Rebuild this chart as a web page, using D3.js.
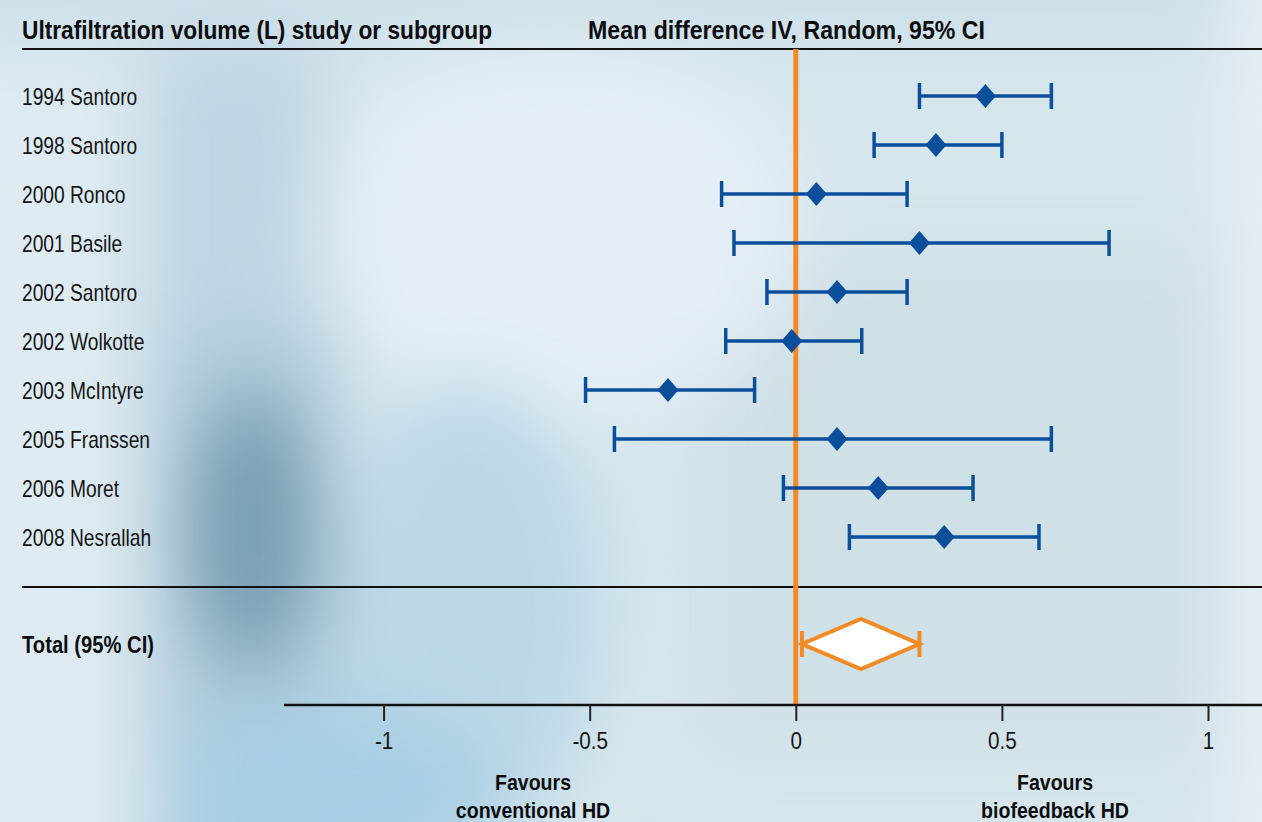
<!DOCTYPE html>
<html>
<head>
<meta charset="utf-8">
<script src="https://cdn.jsdelivr.net/npm/d3@7"></script>
<style>
  html, body { margin: 0; padding: 0; background: #d6e7ef; }
  svg { display: block; }
  .lbl { font-family: "Liberation Sans", Arial, Helvetica, sans-serif; fill: #151515; }
  .bold { font-weight: bold; fill: #0d0d0d; }
</style>
</head>
<body>
<svg id="chart" width="1262" height="822"></svg>
<script>
// Studies (ultrafiltration volume, L) with mean difference and 95% CI
const studies = ["1994 Santoro", "1998 Santoro", "2000 Ronco", "2001 Basile", "2002 Santoro",
                 "2002 Wolkotte", "2003 McIntyre", "2005 Franssen", "2006 Moret", "2008 Nesrallah"];
const meanDiff = [0.46, 0.34, 0.05, 0.30, 0.10, -0.01, -0.31, 0.10, 0.20, 0.36];
const ciLower  = [0.30, 0.19, -0.18, -0.15, -0.07, -0.17, -0.51, -0.44, -0.03, 0.13];
const ciUpper  = [0.62, 0.50, 0.27, 0.76, 0.27, 0.16, -0.10, 0.62, 0.43, 0.59];

// Pooled estimate
const totalLabel = "Total (95% CI)";
const totalMean = 0.158;
const totalLower = 0.015;
const totalUpper = 0.30;

const tickValues = [-1, -0.5, 0, 0.5, 1];
const tickLabels = ["-1", "-0.5", "0", "0.5", "1"];

const headerLeft = "Ultrafiltration volume (L) study or subgroup";
const headerRight = "Mean difference IV, Random, 95% CI";
const favourLeft = ["Favours", "conventional HD"];
const favourRight = ["Favours", "biofeedback HD"];

const W = 1262, H = 822;
const blue = "#0b4f9b", orange = "#f28a26";
const narrow = 0.8;   // condensed look for the regular labels

const svg = d3.select("#chart");

// ---- soft photographic backdrop ----
const defs = svg.append("defs");
const f = defs.append("filter").attr("id", "soft")
  .attr("filterUnits", "userSpaceOnUse")
  .attr("x", -300).attr("y", -300).attr("width", W + 600).attr("height", H + 600);
f.append("feGaussianBlur").attr("stdDeviation", 36);

const bg = svg.append("g");
bg.append("rect").attr("width", W).attr("height", H).attr("fill", "#d6e6ed");
const blur = bg.append("g").attr("filter", "url(#soft)");
blur.append("rect").attr("x", 700).attr("y", 250).attr("width", 520).attr("height", 500).attr("fill", "#d0e0e7");
blur.append("rect").attr("x", -80).attr("y", -80).attr("width", 1400).attr("height", 125).attr("fill", "#cde0ea");
blur.append("ellipse").attr("cx", 560).attr("cy", 230).attr("rx", 240).attr("ry", 190).attr("fill", "#e3eff5");
blur.append("rect").attr("x", -80).attr("y", 60).attr("width", 200).attr("height", 900).attr("fill", "#deebf2");
blur.append("rect").attr("x", 150).attr("y", 50).attr("width", 170).attr("height", 290).attr("fill", "#bfd6e3");
blur.append("ellipse").attr("cx", 470).attr("cy", 610).attr("rx", 130).attr("ry", 230).attr("fill", "#bcd8e7");
blur.append("rect").attr("x", 155).attr("y", 330).attr("width", 180).attr("height", 600).attr("fill", "#aecbdc");
blur.append("ellipse").attr("cx", 330).attr("cy", 800).attr("rx", 170).attr("ry", 100).attr("fill", "#a9cee4");
blur.append("ellipse").attr("cx", 253).attr("cy", 530).attr("rx", 70).attr("ry", 140).attr("fill", "#7a9fb4");
blur.append("rect").attr("x", 1235).attr("y", -50).attr("width", 100).attr("height", 950).attr("fill", "#e8f0f3");

// ---- scales ----
const x = d3.scaleLinear().domain([-1.2416, 1.131]).range([284, W]);
const y = d3.scalePoint().domain(studies).range([96, 537]);
const yTotal = 644;
const yAxis = 705;

// ---- headers ----
svg.append("text").attr("class", "lbl bold").attr("x", 22).attr("y", 39)
  .attr("font-size", 25).attr("textLength", 470).attr("lengthAdjust", "spacingAndGlyphs")
  .text(headerLeft);
svg.append("text").attr("class", "lbl bold").attr("x", 588).attr("y", 39)
  .attr("font-size", 25).attr("textLength", 397).attr("lengthAdjust", "spacingAndGlyphs")
  .text(headerRight);

svg.append("line").attr("x1", 22).attr("x2", W).attr("y1", 49).attr("y2", 49)
  .attr("stroke", "#111").attr("stroke-width", 2);
svg.append("line").attr("x1", 22).attr("x2", W).attr("y1", 587).attr("y2", 587)
  .attr("stroke", "#111").attr("stroke-width", 2);

// ---- study labels ----
svg.append("g").selectAll("text").data(studies).join("text")
  .attr("class", "lbl")
  .attr("transform", d => `translate(22,${y(d)}) scale(${narrow},1)`)
  .attr("dy", "0.36em")
  .attr("font-size", 24).text(d => d);

svg.append("text").attr("class", "lbl bold").attr("x", 22).attr("y", yTotal).attr("dy", "0.36em")
  .attr("font-size", 24).attr("textLength", 132).attr("lengthAdjust", "spacingAndGlyphs")
  .text(totalLabel);

// ---- line of no effect ----
svg.append("line").attr("x1", x(0)).attr("x2", x(0)).attr("y1", 49).attr("y2", yAxis)
  .attr("stroke", orange).attr("stroke-width", 5);

// ---- study CIs ----
const rows = studies.map((s, i) => ({ s, m: meanDiff[i], lo: ciLower[i], hi: ciUpper[i] }));
const cap = 13;
const g = svg.append("g").attr("stroke", blue).attr("stroke-width", 3.5);
g.selectAll("line.ci").data(rows).join("line").attr("class", "ci")
  .attr("x1", d => x(d.lo)).attr("x2", d => x(d.hi))
  .attr("y1", d => y(d.s)).attr("y2", d => y(d.s));
g.selectAll("line.capL").data(rows).join("line").attr("class", "capL")
  .attr("x1", d => x(d.lo)).attr("x2", d => x(d.lo))
  .attr("y1", d => y(d.s) - cap).attr("y2", d => y(d.s) + cap);
g.selectAll("line.capR").data(rows).join("line").attr("class", "capR")
  .attr("x1", d => x(d.hi)).attr("x2", d => x(d.hi))
  .attr("y1", d => y(d.s) - cap).attr("y2", d => y(d.s) + cap);
svg.append("g").selectAll("path").data(rows).join("path")
  .attr("fill", blue)
  .attr("d", d => {
    const cx = x(d.m), cy = y(d.s);
    return `M${cx - 10.5},${cy}L${cx},${cy - 12}L${cx + 10.5},${cy}L${cx},${cy + 12}Z`;
  });

// ---- pooled diamond ----
const tg = svg.append("g").attr("stroke", orange).attr("stroke-width", 4);
tg.append("path").attr("fill", "#fff").attr("stroke-linejoin", "miter")
  .attr("d", `M${x(totalLower)},${yTotal}L${x(totalMean)},${yTotal - 25}L${x(totalUpper)},${yTotal}L${x(totalMean)},${yTotal + 25}Z`);
tg.append("line").attr("x1", x(totalLower)).attr("x2", x(totalLower))
  .attr("y1", yTotal - 13).attr("y2", yTotal + 13);
tg.append("line").attr("x1", x(totalUpper)).attr("x2", x(totalUpper))
  .attr("y1", yTotal - 13).attr("y2", yTotal + 13);

// ---- axis ----
const axis = d3.axisBottom(x).tickValues(tickValues).tickSize(16).tickPadding(11)
  .tickFormat((d, i) => tickLabels[i]);
const ax = svg.append("g").attr("transform", `translate(0,${yAxis})`).call(axis);
ax.attr("font-size", 24).attr("font-family", null);
ax.select(".domain").attr("stroke", "#111").attr("stroke-width", 2.5).attr("d", `M284,0H${W}`);
ax.selectAll(".tick line").attr("stroke", "#222").attr("stroke-width", 2);
ax.selectAll(".tick text").attr("class", "lbl").attr("font-size", 24).attr("fill", "#151515")
  .attr("transform", "scale(0.86,1)");

// ---- direction labels ----
function favour(lines, cx) {
  const t = svg.append("text").attr("class", "lbl bold").attr("text-anchor", "middle")
    .attr("font-size", 22).attr("transform", `translate(${cx},0) scale(0.89,1)`);
  lines.forEach((l, i) => t.append("tspan").attr("x", 0).attr("y", 790 + i * 28).text(l));
}
favour(favourLeft, 533);
favour(favourRight, 1055);
</script>
</body>
</html>
